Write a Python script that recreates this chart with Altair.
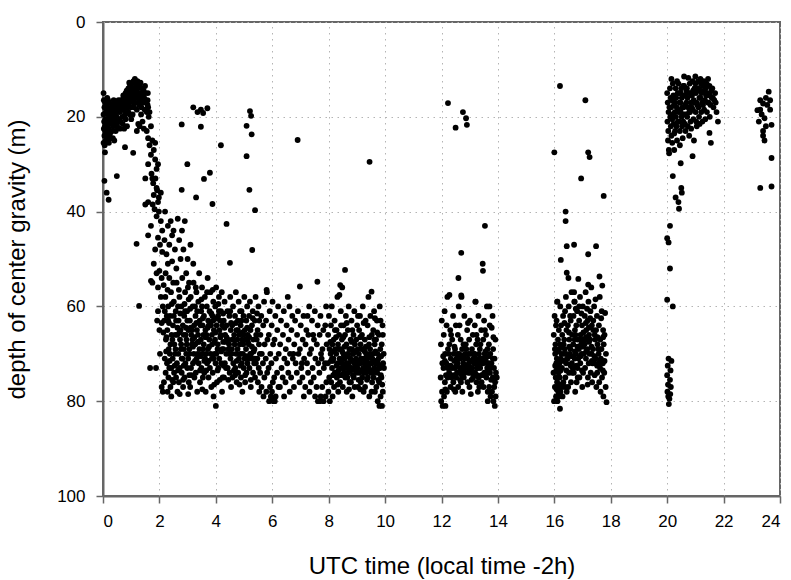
import altair as alt
import pandas as pd

# ---- values (time in h UTC, depth of center gravity in m) ----
surface_morning = [
    (0.02,15),(0.03,16.5),(0.05,18),(0.02,19.5),(0.04,21),(0.03,22.5),(0.05,24),(0.02,25.5),(0.06,26),
    (0.08,17),(0.10,19),(0.09,20.5),(0.11,22),(0.12,23.5),(0.10,25),(0.15,16),(0.16,18),(0.18,19.5),
    (0.17,21),(0.20,22.5),(0.22,17),(0.24,18.5),(0.25,20),(0.27,21.5),(0.30,19),(0.32,17.5),(0.34,20.5),
    (0.36,22),(0.38,18),(0.40,19.5),(0.42,21),(0.44,17),(0.46,18.5),(0.48,20),(0.50,22),(0.52,19),
    (0.55,20.5),(0.57,17.5),(0.60,19),(0.62,21),(0.64,16.5),(0.66,18),(0.68,20),(0.70,17),(0.72,15.5),
    (0.74,18.5),(0.76,16),(0.78,19.5),(0.80,15),(0.82,17),(0.84,14.5),(0.86,16.5),(0.88,18),(0.90,14),
    (0.92,15.5),(0.94,17),(0.96,13.5),(0.98,15),(1.00,16.5),(1.02,13),(1.04,14.5),(1.06,16),(1.08,12.5),
    (1.10,14),(1.12,15.5),(1.14,17),(1.16,13),(1.18,14.5),(1.20,16),(1.22,12.5),(1.24,14),(1.26,15.5),
    (1.28,17.5),(1.30,13.5),(1.32,15),(1.34,16.5),(1.36,18),(1.38,14),(1.40,15.5),(1.42,17),(1.44,14.5),
    (1.46,16),(1.48,18.5),(1.50,15),(1.52,17),(1.55,19),(1.58,16.5),(1.60,18),(1.62,20),(1.65,19),
    (1.35,19.5),(1.10,18),(0.95,19.5),(0.80,20.5),(0.60,22.5),(0.45,23),(0.25,23.5),(0.15,24.5),
    (0.35,24.5),(1.20,18.5),(1.05,19.5),(0.07,27.5),(0.05,33.5),(0.13,36),(0.20,37.5),(0.49,32.5),
    (0.28,24.5),(0.40,25),(0.85,22),(0.70,21.5),(0.55,16.5),(0.90,19),(1.00,20.5),(0.75,22.5),
    (0.13,17.5),(0.19,20.5),(0.29,18.5),(0.39,21.5),(0.49,17.5),(0.58,21),(0.69,18.5),(0.79,17.5),
    (0.89,16),(0.99,18),(1.09,15),(1.19,13.5),(1.29,16.5),(1.39,17),(1.49,13.5),(1.59,15),(1.13,12),
    (0.93,12.8),(1.33,12.8),(0.07,22),(0.21,25.5),(0.33,23),
    (0.08,23),(0.18,16.5),(0.28,20),(0.38,16.5),(0.48,21.5),(0.58,18),(0.68,16.5),(0.78,18),(0.88,14.5),
    (0.98,13.5),(1.08,17),(1.18,15.5),(1.28,13),(1.38,15.5),(1.48,16.5),(1.58,17.5),
]

descent_morning = [
    (1.19,46.8),(1.28,59.9),(0.78,26.4),(1.07,27.6),(1.20,23),(1.25,21.5),(1.30,22),(1.40,21),
    (1.45,22.5),(1.55,23),(1.60,24.5),(1.70,22),(1.75,25),(1.80,27),(1.70,28),(1.85,29),(1.60,30),
    (1.90,31),(1.50,33),(1.75,33),(1.90,35),(1.80,36.5),(1.60,38),(1.95,38),(1.65,26),(1.85,25.5),
    (1.95,30),(1.72,32),(1.78,34),(1.86,33),(1.92,35.5),(1.98,37),(2.05,36),(1.76,38.5),(1.83,39.5),
    (1.90,41),(1.98,40),(2.05,42),(2.10,44),(1.95,45.5),(2.02,47),(2.10,48.5),(2.18,46),(2.25,49),
    (1.85,48),(1.80,51),(1.90,53),(2.00,52.5),(2.08,54),(2.15,55.5),(2.22,53),(2.30,51),(2.35,54),
    (1.95,56),(2.05,58),(2.12,60),(1.92,63),(2.00,65),(2.08,63.5),(1.70,54.6),(1.67,73),(2.08,77),
    (1.88,73),(2.02,70),(1.95,61),(1.50,38.5),(1.60,45),(1.70,43),(1.75,55),(2.45,45),(2.55,48),
    (2.60,52),(2.50,44),(2.70,46),(2.40,42),(2.65,41.5),(2.80,44),(2.90,42),(2.35,47),(2.75,50),
    (2.85,48),(3.00,50),(3.10,47),(2.20,40),(2.30,43),(2.45,50.5),(2.95,53),(3.20,51),(3.05,55),
]

scatter_morning = [
    (2.79,21.6),(3.20,18),(3.35,19),(3.47,18.5),(3.55,19.2),(3.70,18.2),(3.47,22.1),(4.18,26),
    (2.99,30),(3.79,31.8),(3.58,33.1),(2.79,35.4),(3.30,37),(5.21,18.8),(5.25,19.8),(5.09,21.9),
    (5.27,23.7),(5.09,28.3),(5.19,35.4),(5.39,39.7),(5.29,48.1),(4.38,42.6),(3.88,38.4),(4.50,50.8),
    (6.98,55.8),(5.80,56.5),(6.90,24.9),(9.45,29.5),
]

cloud_2_4h = [
    (2.21,58),(2.17,63),(2.23,67),(2.19,71),(2.22,74),(2.16,76),(2.31,60),(2.28,65),(2.33,69),(2.27,72),
    (2.32,75),(2.29,78),(2.41,57),(2.38,62),(2.43,66),(2.37,70),(2.42,73),(2.39,77),(2.51,59),(2.48,64),
    (2.53,68),(2.47,71),(2.52,74),(2.49,76),(2.61,55),(2.58,61),(2.63,66),(2.57,69),(2.62,72),(2.59,75),
    (2.64,78),(2.71,58),(2.68,63),(2.73,67),(2.67,70),(2.72,73),(2.69,76),(2.81,54),(2.78,60),(2.83,64),
    (2.77,68),(2.82,71),(2.79,74),(2.84,77),(2.91,57),(2.88,62),(2.93,66),(2.87,69),(2.92,72),(2.89,75),
    (3.01,56),(2.98,61),(3.03,65),(2.97,68),(3.02,71),(2.99,73),(3.04,76),(3.11,58),(3.08,63),(3.13,66),
    (3.07,70),(3.12,73),(3.09,77),(3.21,55),(3.18,60),(3.23,64),(3.17,67),(3.22,70),(3.19,72),(3.24,75),
    (3.31,57),(3.28,62),(3.33,65),(3.27,68),(3.32,71),(3.29,74),(3.34,78),(3.41,53),(3.38,59),(3.43,63),
    (3.37,66),(3.42,69),(3.39,72),(3.44,76),(3.51,56),(3.48,61),(3.53,64),(3.47,67),(3.52,70),(3.49,73),
    (3.54,75),(3.61,58),(3.58,62),(3.63,65),(3.57,68),(3.62,71),(3.59,74),(3.64,78),(3.71,54),(3.68,60),
    (3.73,63),(3.67,66),(3.72,69),(3.69,72),(3.74,75),(3.81,57),(3.78,61),(3.83,64),(3.77,67),(3.82,70),
    (3.79,73),(3.84,77),(3.91,59),(3.88,62),(3.93,65),(3.87,68),(3.92,71),(3.89,74),(4.01,56),(3.98,60),
    (4.03,64),(3.97,67),(4.02,70),(3.99,72),(4.04,76),(4.00,81),(4.11,58),(4.08,62),(4.13,65),(4.07,68),
    (4.12,71),(4.09,73),(4.21,57),(4.18,61),(4.23,64),(4.17,66),(4.22,69),(4.19,72),(4.24,75),
    (2.26,62),(2.46,67),(2.66,60),(2.86,66),(3.06,69),(3.26,60),(3.46,64),(3.66,70),(3.86,66),(4.06,69),
    (2.35,73),(2.55,70),(2.75,65),(2.95,70),(3.15,68),(3.35,70),(3.55,69),(3.75,64),(3.95,70),(4.15,63),
    (2.14,65.5),(2.24,69.5),(2.34,63.5),(2.44,59.5),(2.54,72.5),(2.64,64.5),(2.74,61.5),(2.84,75.5),
    (2.94,64.5),(3.04,58.5),(3.14,74.5),(3.24,66.5),(3.34,61),(3.44,73.5),(3.54,62.5),(3.64,66.5),
    (3.74,71.5),(3.84,61.5),(3.94,76.5),(4.04,62.5),(4.14,75.5),(4.26,67.5),(2.19,61),(2.39,68),(2.59,63),
    (2.79,71),(2.99,63),(3.19,68.5),(3.39,67.5),(3.59,71.5),(3.79,63.5),(3.99,65.5),(4.19,69.5),
    (2.29,56.5),(2.49,55),(2.69,56.5),(2.89,59.5),(3.09,60.5),(3.29,56),(3.49,58.5),(3.69,57),(3.89,56.5),
    (4.09,59.5),(2.12,78),(2.42,79),(2.72,78.5),(3.02,78.5),(3.52,77.5),(3.92,79),(4.22,78),
]

core_2_5h = [
    (2.25,66.5),(2.36,71.5),(2.45,75.5),(2.56,66),(2.66,73.5),(2.76,69),(2.86,72.5),(2.96,67),(3.06,74.5),
    (3.16,65),(3.26,71.5),(3.36,67.5),(3.46,70.5),(3.56,66),(3.66,73.5),(3.76,68.5),(3.86,71),(3.96,67.5),
    (4.06,73.5),(4.16,66.5),(4.28,72.5),(4.38,66.5),(4.48,70),(4.58,67),(4.68,74.5),(4.78,65),(4.88,72.5),
    (4.98,66),(5.08,70.5),(5.18,66.5),(5.28,68.5),(5.38,71),(2.31,63),(2.51,62),(2.71,65.5),(2.91,61),
    (3.11,64.5),(3.31,63.5),(3.51,60),(3.71,64.5),(3.91,63),(4.11,61),(4.31,64.5),(4.51,61),(4.71,63.5),
    (4.91,63),(5.11,64.5),(5.31,62.5),
]

cloud_4_6h = [
    (4.31,59),(4.28,63),(4.33,66),(4.27,69),(4.32,72),(4.29,75),(4.41,61),(4.38,64),(4.43,67),(4.37,70),
    (4.42,73),(4.51,58),(4.48,62),(4.53,65),(4.47,68),(4.52,71),(4.49,74),(4.54,77),(4.61,60),(4.58,64),
    (4.63,67),(4.57,69),(4.62,72),(4.59,75),(4.71,57),(4.68,62),(4.73,65),(4.67,68),(4.72,70),(4.69,73),
    (4.74,76),(4.81,59),(4.78,63),(4.83,66),(4.77,69),(4.82,71),(4.79,74),(4.91,61),(4.88,64),(4.93,67),
    (4.87,70),(4.92,72),(4.89,75),(4.94,78),(5.01,58),(4.98,62),(5.03,65),(4.97,68),(5.02,71),(4.99,73),
    (5.04,76),(5.11,60),(5.08,63),(5.13,66),(5.07,69),(5.12,72),(5.09,74),(5.21,59),(5.18,62),(5.23,65),
    (5.17,68),(5.22,70),(5.19,73),(5.24,77),(5.31,61),(5.28,64),(5.33,67),(5.27,71),(5.32,74),(5.41,58),
    (5.38,63),(5.43,66),(5.37,69),(5.42,72),(5.39,75),(5.51,60),(5.48,65),(5.53,68),(5.47,71),(5.52,73),
    (5.49,76),(5.54,78),(5.61,62),(5.58,66),(5.63,70),(5.57,74),(5.62,77),(5.71,59),(5.68,64),(5.73,68),
    (5.67,72),(5.72,75),(5.69,79),(5.81,57),(5.78,63),(5.83,67),(5.77,71),(5.82,74),(5.79,78),(5.91,61),
    (5.88,66),(5.93,70),(5.87,73),(5.92,77),(5.89,80),(6.01,59),(5.98,64),(6.03,68),(5.97,72),(6.02,76),
    (5.99,78),(6.04,80),(6.11,62),(6.08,67),(6.13,71),(6.07,75),(6.12,79),(6.09,80),(6.21,60),(6.18,65),
    (6.23,70),(6.17,74),(6.22,77),(4.45,69),(4.65,66),(4.85,68),(5.05,67),(5.25,70),(5.45,67),(4.36,73),
    (4.56,70),(4.76,67),(4.96,70),(5.16,71),(5.36,72),(5.56,70),(5.95,79),(6.05,79.5),
    (4.34,67.5),(4.54,63.5),(4.74,71.5),(4.94,65.5),(5.14,67.5),(5.34,69.5),(5.54,63),(4.44,75.5),
    (4.64,73.5),(4.84,76.5),(5.04,74.5),(5.24,75.5),(4.26,61.5),(4.86,61),(5.46,61.5),
]

cloud_6_8h = [
    (6.31,63),(6.28,68),(6.33,73),(6.27,77),(6.41,61),(6.38,66),(6.43,71),(6.37,75),(6.42,79),(6.51,64),
    (6.48,69),(6.53,72),(6.47,76),(6.61,60),(6.58,67),(6.63,70),(6.57,74),(6.62,78),(6.71,62),(6.68,65),
    (6.73,71),(6.67,75),(6.81,63),(6.78,68),(6.83,72),(6.77,77),(6.91,61),(6.88,66),(6.93,70),(6.87,74),
    (7.01,64),(6.98,69),(7.03,73),(6.97,76),(7.11,62),(7.08,67),(7.13,71),(7.07,75),(7.12,79),(7.21,65),
    (7.18,68),(7.23,72),(7.17,77),(7.31,60),(7.28,66),(7.33,70),(7.27,74),(7.32,78),(7.41,63),(7.38,69),
    (7.43,73),(7.37,76),(7.51,61),(7.48,67),(7.53,71),(7.47,75),(7.52,79),(7.60,54.8),(7.61,64),(7.58,68),
    (7.63,72),(7.57,77),(7.62,80),(7.71,62),(7.68,66),(7.73,70),(7.67,74),(7.72,79),(7.69,80),(7.81,65),
    (7.78,69),(7.83,73),(7.77,77),(7.82,80),(7.91,60),(7.88,64),(7.93,68),(7.87,72),(7.92,76),(7.89,79),
    (6.55,58),(7.25,62),(7.45,66),(7.75,71),(6.75,70),(7.05,72),
]

cloud_8_10h = [
    (8.01,62),(7.98,66),(8.03,69),(7.97,72),(8.02,75),(7.99,78),(8.04,80),(8.11,60),(8.08,64),(8.13,68),
    (8.07,70),(8.12,73),(8.09,76),(8.14,79),(8.21,63),(8.18,67),(8.23,69),(8.17,71),(8.22,74),(8.19,77),
    (8.31,58),(8.28,65),(8.33,68),(8.27,70),(8.32,72),(8.29,75),(8.34,78),(8.41,55.5),(8.38,57.6),(8.43,61),
    (8.37,66),(8.42,69),(8.39,71),(8.44,73),(8.40,76),(8.58,52.3),(8.48,56),(8.53,64),(8.47,67),(8.52,70),
    (8.49,72),(8.54,74),(8.50,77),(8.61,62),(8.58,66),(8.63,68),(8.57,71),(8.62,73),(8.59,75),(8.64,78),
    (8.71,60),(8.68,65),(8.73,69),(8.67,70),(8.72,72),(8.69,74),(8.74,76),(8.81,63),(8.78,67),(8.83,69),
    (8.77,71),(8.82,73),(8.79,76),(8.84,79),(8.91,61),(8.88,66),(8.93,68),(8.87,70),(8.92,72),(8.89,75),
    (9.01,64),(8.98,67),(9.03,69),(8.97,71),(9.02,73),(8.99,74),(9.04,77),(9.11,62),(9.08,65),(9.13,68),
    (9.07,70),(9.12,72),(9.09,74),(9.14,76),(9.21,60),(9.18,66),(9.23,69),(9.17,71),(9.22,73),(9.19,75),
    (9.24,78),(9.31,63),(9.28,67),(9.33,70),(9.27,72),(9.32,74),(9.29,77),(9.41,58),(9.38,64),(9.43,68),
    (9.37,71),(9.42,73),(9.39,75),(9.44,79),(9.52,56.9),(9.48,62),(9.53,66),(9.47,69),(9.52,72),(9.49,74),
    (9.54,76),(9.61,61),(9.58,65),(9.63,68),(9.57,70),(9.62,73),(9.59,75),(9.64,78),(9.71,63),(9.68,67),
    (9.73,70),(9.67,72),(9.72,74),(9.69,77),(9.74,80),(9.81,60),(9.78,66),(9.83,69),(9.77,71),(9.82,73),
    (9.79,76),(9.84,79),(9.80,81),(9.91,64),(9.88,68),(9.93,72),(9.87,75),(9.92,78),(9.89,81),
    (8.15,71.5),(8.35,73.5),(8.55,70.5),(8.75,73),(8.95,73.5),(9.15,71),(9.35,73),(9.55,71),(9.75,72),
    (8.25,74),(8.45,71.5),(8.65,72),(8.85,70),(9.05,72),(9.25,74),(9.45,72),(9.65,71.5),(9.85,74.5),
    (8.06,67.5),(8.16,74.5),(8.26,66.5),(8.36,69),(8.46,74.5),(8.56,68.5),(8.66,75),(8.76,69),(8.86,74.5),
    (8.96,69.5),(9.06,75.5),(9.16,69),(9.26,71),(9.36,75.5),(9.46,70),(9.56,74),(9.66,69.5),(9.76,75.5),
    (9.86,70.5),(9.96,73),(8.12,71),(8.32,76.5),(8.52,73),(8.72,77.5),(8.92,77),(9.12,77.5),(9.32,68.5),
    (9.52,78),(9.72,65.5),(9.92,66),(8.44,64),(8.64,63.5),(8.84,65),(9.04,62),(9.24,63.5),(9.44,66.5),
    (9.64,62.5),(9.84,63),
    (8.08,71.5),(8.18,69.5),(8.28,72.5),(8.38,74.5),(8.48,69.5),(8.58,72.5),(8.68,70.5),(8.78,73.5),
    (8.88,71.5),(8.98,72.5),(9.08,71.5),(9.18,73.5),(9.28,69.5),(9.38,72),(9.48,73.5),(9.58,71.5),
    (9.68,73.5),(9.78,73),(9.88,72.5),(9.95,70),(8.22,65),(8.52,66.5),(8.82,67.5),(9.12,66.5),(9.42,70.5),
    (9.62,67),(9.90,76.5),
]

cloud_12_14h = [
    (12.01,63),(11.98,68),(12.03,72),(11.97,75),(12.02,78),(11.99,80),(12.04,81),(12.11,61),(12.08,66),
    (12.13,70),(12.07,73),(12.12,76),(12.09,79),(12.14,81),(12.21,58),(12.18,64),(12.23,69),(12.17,72),
    (12.22,75),(12.19,78),(12.31,65),(12.28,68),(12.33,71),(12.27,74),(12.32,77),(12.41,62),(12.38,67),
    (12.43,70),(12.37,73),(12.42,76),(12.51,64),(12.48,69),(12.53,71),(12.47,73),(12.52,75),(12.49,78),
    (12.61,60),(12.58,66),(12.63,70),(12.57,72),(12.62,74),(12.59,77),(12.71,58),(12.68,67),(12.73,69),
    (12.67,71),(12.72,73),(12.69,76),(12.81,62),(12.78,68),(12.83,70),(12.77,72),(12.82,74),(12.79,75),
    (12.91,65),(12.88,69),(12.93,71),(12.87,73),(12.92,76),(13.01,63),(12.98,67),(13.03,70),(12.97,72),
    (13.02,74),(12.99,77),(13.11,66),(13.08,69),(13.13,71),(13.07,73),(13.12,75),(13.21,59),(13.18,64),
    (13.23,68),(13.17,70),(13.22,72),(13.19,74),(13.24,76),(13.31,62),(13.28,67),(13.33,70),(13.27,73),
    (13.32,75),(13.29,78),(13.41,65),(13.38,68),(13.43,71),(13.37,73),(13.42,76),(13.46,51),(13.47,52.5),
    (13.51,63),(13.48,67),(13.53,70),(13.47,72),(13.52,74),(13.49,77),(13.61,60),(13.58,66),(13.63,69),
    (13.57,71),(13.62,73),(13.59,75),(13.64,78),(13.71,64),(13.68,68),(13.73,70),(13.67,72),(13.72,74),
    (13.69,77),(13.74,79),(13.81,62),(13.78,64.5),(13.83,69),(13.77,72),(13.82,75),(13.79,78),(13.84,80),
    (13.91,67),(13.88,71),(13.93,74),(13.87,77),(13.92,79),(13.89,81),(12.45,71.5),(12.65,73),(12.85,72.5),
    (13.05,71.5),(13.25,73),(13.45,72),(13.65,74),(12.55,74),(12.75,70.5),(12.95,74),(13.15,72),(13.35,71),
    (12.23,17.1),(12.76,19),(12.87,20.3),(12.90,21.7),(12.50,22.3),(13.54,43),(12.70,48.7),(12.60,54),
    (12.28,57.6),(12.70,57.7),(13.20,59),(13.70,60),
    (12.06,70.5),(12.16,74.5),(12.26,70),(12.36,75),(12.46,68.5),(12.56,70),(12.66,75.5),(12.76,74),
    (12.86,68),(12.96,70),(13.06,75.5),(13.16,70),(13.26,74.5),(13.36,69),(13.46,74.5),(13.56,69.5),
    (13.66,70.5),(13.76,75.5),(13.86,73),(13.96,75),(12.14,77.5),(12.44,77.5),(12.74,78),(13.04,78.5),
    (13.34,77),(13.64,80),(12.34,66),(12.64,64),(12.94,63.5),(13.24,66),(13.54,65),(13.84,66.5),
    (12.12,71.5),(12.22,73),(12.32,72.5),(12.42,74.5),(12.52,72.5),(12.62,71),(12.72,74.5),(12.82,71),
    (12.92,72.5),(13.02,73),(13.12,74),(13.22,71),(13.32,72),(13.42,74.5),(13.52,71),(13.62,72),
    (13.72,73),(13.82,71),(13.90,76),
]

cloud_16_18h = [
    (16.01,62),(15.98,66),(16.03,70),(15.97,74),(16.02,77),(15.99,80),(16.06,64),(16.04,68),(16.07,72),
    (16.05,75),(16.06,79),(16.11,59),(16.08,63),(16.13,67),(16.09,71),(16.12,73),(16.10,76),(16.14,78),
    (16.11,80),(16.16,65),(16.17,69),(16.15,74),(16.18,77),(16.16,79),(16.21,60),(16.24,64),(16.20,68),
    (16.23,71),(16.19,75),(16.22,78),(16.20,81.6),(16.31,62),(16.28,66),(16.33,70),(16.27,73),(16.32,76),
    (16.29,79),(16.41,58),(16.38,61),(16.43,65),(16.37,69),(16.42,72),(16.39,75),(16.44,78),(16.51,60),
    (16.48,64),(16.53,67),(16.47,71),(16.52,74),(16.49,77),(16.61,57),(16.58,63),(16.63,66),(16.57,69),
    (16.62,72),(16.59,76),(16.71,59),(16.68,62),(16.73,65),(16.67,68),(16.72,71),(16.69,74),(16.74,78),
    (16.81,61),(16.78,64),(16.83,67),(16.77,70),(16.82,73),(16.79,76),(16.91,58),(16.88,63),(16.93,66),
    (16.87,69),(16.92,72),(16.89,75),(17.01,60),(16.98,64),(17.03,67),(16.97,70),(17.02,74),(16.99,77),
    (17.11,57),(17.08,62),(17.13,65),(17.07,68),(17.12,71),(17.09,73),(17.21,59),(17.18,63),(17.23,66),
    (17.17,69),(17.22,72),(17.19,75),(17.31,56),(17.28,61),(17.33,64),(17.27,67),(17.32,70),(17.29,74),
    (17.34,76),(17.41,60),(17.38,63),(17.43,66),(17.37,69),(17.42,72),(17.51,62),(17.48,65),(17.53,68),
    (17.47,71),(17.52,74),(17.49,77),(17.61,58),(17.58,64),(17.63,67),(17.57,70),(17.62,73),(17.59,76),
    (17.64,78),(17.70,55.6),(17.68,61),(17.73,65),(17.67,69),(17.72,72),(17.69,75),(17.74,79),(17.80,61.4),
    (17.78,66),(17.83,70),(17.77,74),(17.82,77),(17.85,80.2),(16.25,70),(16.35,67),(16.45,71),(16.55,70),
    (16.65,73),(16.75,66),(16.85,71),(16.95,68),(17.05,70),(17.15,67),(17.25,70),(17.35,72),(17.45,67),
    (17.55,69),(17.65,71),(17.75,68),
    (16.03,72.5),(16.13,69.5),(16.23,76.5),(16.33,68),(16.43,73.5),(16.53,68.5),(16.63,74),(16.73,69.5),
    (16.83,75),(16.93,70.5),(17.03,65.5),(17.13,69.5),(17.23,67.5),(17.33,71.5),(17.43,74.5),(17.53,66.5),
    (17.63,71.5),(17.73,66.5),(16.08,77.5),(16.18,72),(16.28,68.5),(16.38,77),(16.58,72.5),(16.78,72.5),
    (16.98,73.5),(17.18,76.5),(17.38,65),(17.58,72),(17.78,71.5),(16.36,63.5),(16.56,62),(16.76,60.5),
    (16.96,61.5),(17.16,60.5),(17.46,58.5),(17.66,62.5),
    (16.02,69),(16.07,73.5),(16.12,75),(16.17,71.5),(16.22,73.5),(16.27,77),(16.32,71.5),(16.42,70),
    (16.52,65.5),(16.62,70.5),(16.72,67),(16.82,68.5),(16.92,67),(17.02,68.5),(17.12,66.5),(17.22,64.5),
    (17.32,68.5),(17.42,70.5),(17.52,72.5),(17.62,69),(17.72,73.5),(17.12,63.5),(16.88,60),(17.27,62.5),
    (16.20,13.5),(16.00,27.5),(17.10,16.5),(17.20,27.5),(17.25,28.5),(16.95,33),(17.75,36.7),(16.40,40),
    (16.40,42),(16.70,47),(16.44,47.3),(17.48,47.3),(17.20,49),(16.23,50.2),(16.44,52.9),(16.50,54),
    (17.60,53.7),(16.85,54.2),(17.20,55.4),(16.70,57),(16.72,59),(16.10,59),
]

surface_evening = [
    (20.00,15),(20.02,17),(20.05,19),(20.01,21),(20.04,23),(20.03,25),(20.06,27),(20.10,14),(20.12,16),
    (20.14,18),(20.11,20),(20.13,22),(20.15,24),(20.20,13),(20.22,15.5),(20.24,17.5),(20.21,19.5),
    (20.23,21.5),(20.25,23.5),(20.30,14),(20.32,16),(20.34,18),(20.31,20),(20.33,22),(20.35,25),
    (20.40,13),(20.42,15),(20.44,17),(20.41,19),(20.43,21),(20.45,23),(20.50,14),(20.52,16),(20.54,18),
    (20.51,20),(20.53,22),(20.55,24.5),(20.60,13.5),(20.62,15.5),(20.64,17.5),(20.61,19.5),(20.63,21.5),
    (20.70,14),(20.72,16),(20.74,18),(20.71,20),(20.73,22),(20.80,13),(20.82,15),(20.84,17),(20.81,19),
    (20.83,21),(20.90,12.5),(20.92,14.5),(20.94,16.5),(20.91,18.5),(20.93,20.5),(21.00,13),(21.02,15),
    (21.04,17),(21.01,19),(21.03,21),(21.10,12.5),(21.12,14),(21.14,16),(21.11,18),(21.13,20),(21.20,13),
    (21.22,15),(21.24,17),(21.21,19),(21.30,12.5),(21.32,14.5),(21.34,16.5),(21.31,18.5),(21.40,13),
    (21.42,15),(21.44,17),(21.41,19),(21.50,13.5),(21.52,15.5),(21.54,17.5),(21.51,20),(21.60,14),
    (21.62,16),(21.64,18),(21.70,15),(21.72,17),(21.75,19),(21.80,21),(21.50,23.4),(21.55,25.5),
    (20.95,25),(20.45,26),(20.25,27),(20.65,23),(20.85,22.5),(21.05,22),(21.25,21),(20.15,12),
    (20.35,12.5),(20.60,11.5),(20.75,11.8),(21.00,11.5),(21.15,21.5),(21.35,20.5),(20.48,19),(20.68,17),
    (20.17,16.5),(20.27,19),(20.37,15),(20.47,17),(20.57,13.5),(20.67,19.5),(20.77,15),(20.87,18),
    (20.97,14),(21.07,17.5),(21.17,14.5),(21.27,17.5),(21.37,14),(21.47,17),(21.57,14.5),(21.67,16.5),
    (21.18,12),(21.45,12),(20.57,21),(20.78,24),(20.38,21),
    (20.08,18),(20.18,20.5),(20.28,17),(20.38,18.5),(20.58,18),(20.78,19),(20.98,17),(21.18,16),
    (21.38,15.5),(21.58,16),(20.88,15.5),(20.68,14.5),(20.48,15),(21.28,13.5),(21.08,14),(20.28,23),
    (20.18,25.5),
    (20.07,27.7),(20.48,29.8),(20.90,28.3),(20.20,32.5),(20.50,35),(20.52,36),(20.30,37),(20.40,38),
    (20.42,39.4),(20.10,43),(20.00,45.6),(20.05,46.5),(20.10,52),(20.00,58.6),(20.20,60),
    (20.05,71),(20.15,71.5),(20.02,72.5),(20.12,73.5),(20.00,74.5),(20.10,75.5),(20.03,76.5),(20.13,77),
    (20.01,78),(20.11,78.5),(20.04,79),(20.08,79.5),(20.06,80.6),
]

surface_late = [
    (23.60,14.7),(23.30,16.5),(23.40,17.2),(23.50,16),(23.65,16.5),(23.30,18.5),(23.65,18.5),(23.20,18.6),
    (23.35,19.5),(23.45,20.3),(23.25,21),(23.50,22),(23.40,23),(23.40,24),(23.45,25),(23.70,21.7),
    (23.70,28.7),(23.30,35),(23.70,34.7),(23.55,17.5),
]

bouts = {
    "surface_morning": surface_morning, "descent_morning": descent_morning,
    "scatter_morning": scatter_morning, "cloud_2_4h": cloud_2_4h, "core_2_5h": core_2_5h,
    "cloud_4_6h": cloud_4_6h, "cloud_6_8h": cloud_6_8h, "cloud_8_10h": cloud_8_10h,
    "cloud_12_14h": cloud_12_14h, "cloud_16_18h": cloud_16_18h,
    "surface_evening": surface_evening, "surface_late": surface_late,
}

rows = [{"time": t, "depth": d, "bout": k} for k, pts in bouts.items() for t, d in pts]
df = pd.DataFrame(rows)

x_ticks = list(range(0, 25, 2))
y_ticks = list(range(0, 101, 20))

chart = alt.Chart(df).mark_circle(size=34, color="black", opacity=1).encode(
    x=alt.X("time:Q", scale=alt.Scale(domain=[0, 24], nice=False, zero=False),
            axis=alt.Axis(values=x_ticks, title="UTC time (local time -2h)",
                          labelPadding=10, titlePadding=25)),
    y=alt.Y("depth:Q", scale=alt.Scale(domain=[0, 100], reverse=True, nice=False),
            axis=alt.Axis(values=y_ticks, title="depth of center gravity (m)",
                          labelPadding=11, titlePadding=27)),
).properties(
    width=677, height=474,
    autosize=alt.AutoSizeParams(type="none"),
    padding={"left": 103, "top": 22, "right": 11, "bottom": 84},
).configure_view(
    stroke="#666666", strokeWidth=2
).configure_axis(
    labelFont="Liberation Sans", titleFont="Liberation Sans",
    labelFontSize=17, titleFontSize=24, titleFontWeight="normal",
    labelColor="black", titleColor="black",
    domainColor="#666666", domainWidth=2, tickColor="#666666", tickWidth=1.5, tickSize=7,
    gridColor="#b4b4b4", gridDash=[1.5, 4.5], gridWidth=1,
)

chart.save("out.html", embed_options={"renderer": "svg", "actions": False})
